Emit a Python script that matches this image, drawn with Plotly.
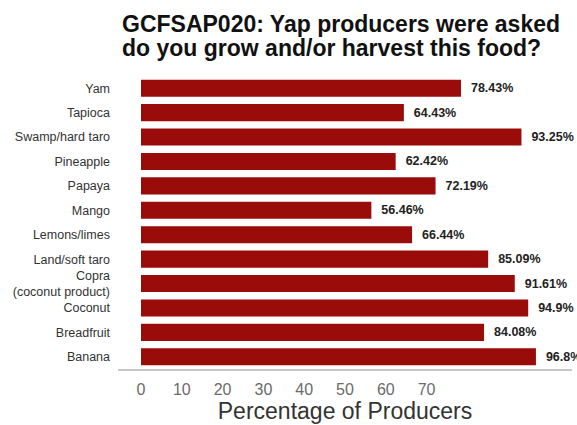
import plotly.graph_objects as go

categories = ["Yam", "Tapioca", "Swamp/hard taro", "Pineapple", "Papaya", "Mango",
              "Lemons/limes", "Land/soft taro", "Copra<br>(coconut product)", "Coconut",
              "Breadfruit", "Banana"]
values = [78.43, 64.43, 93.25, 62.42, 72.19, 56.46, 66.44, 85.09, 91.61, 94.9, 84.08, 96.8]
tick_vals = [0, 10, 20, 30, 40, 50, 60, 70]
title_lines = ["GCFSAP020: Yap producers were asked", "do you grow and/or harvest this food?"]
labels = ["\u00a0\u00a0<b>" + f"{v}%" + "</b>" for v in values]

W, H = 577, 425
FONT = "Liberation Sans, Arial"
fig = go.Figure(go.Bar(
    x=values, y=categories, orientation="h",
    marker=dict(color="#9a0c0a", line=dict(width=0)),
    text=labels, textposition="outside", cliponaxis=False, constraintext="none",
    textfont=dict(family=FONT, size=12.5, color="#222222"),
))

for i, (line, shift) in enumerate(zip(title_lines, [52, 28])):
    fig.add_annotation(
        text="<b>" + line + "</b>", xref="paper", yref="paper", x=0, y=1,
        xanchor="left", yanchor="middle", xshift=2, yshift=shift, showarrow=False,
        font=dict(family=FONT, size=23, color="#111111"),
    )

fig.update_layout(
    width=W, height=H,
    margin=dict(l=118, r=5, t=76, b=56),
    paper_bgcolor="white", plot_bgcolor="white",
    bargap=0.3,
    showlegend=False,
    xaxis=dict(
        range=[-23 / 4.08, (572 - 141) / 4.08],
        tickvals=tick_vals, showgrid=False, zeroline=False,
        showline=True, linecolor="#c8c8c8", linewidth=1.5,
        ticks="", ticklabelstandoff=5,
        tickfont=dict(family=FONT, size=16, color="#6b6b6b"),
        title=dict(text="Percentage of Producers", standoff=4,
                   font=dict(family=FONT, size=23, color="#333333")),
    ),
    yaxis=dict(
        autorange="reversed", showgrid=False, zeroline=False, showline=False,
        ticks="", ticklabelstandoff=7,
        tickfont=dict(family=FONT, size=12.5, color="#333333"),
    ),
)

fig.write_html("out.html")
